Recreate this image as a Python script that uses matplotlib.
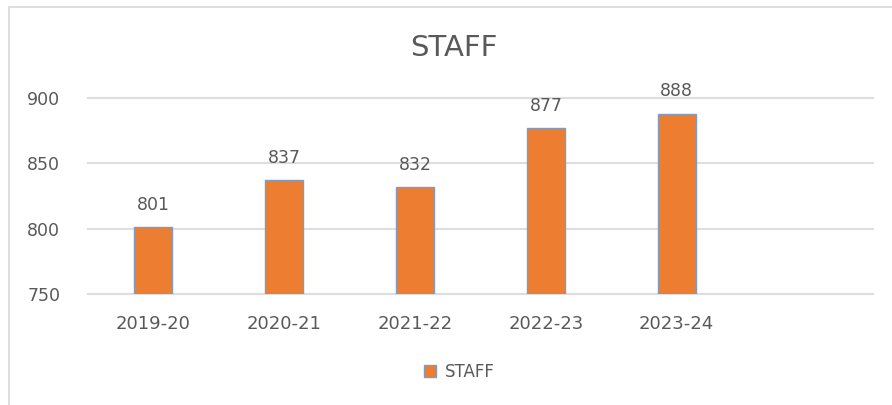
import numpy as np
import matplotlib
matplotlib.use("Agg")
import matplotlib.pyplot as plt
from matplotlib.patches import Rectangle

# staff headcount per academic year
years = ["2019-20", "2020-21", "2021-22", "2022-23", "2023-24"]
staff = [801, 837, 832, 877, 888]
y_ticks = [750, 800, 850, 900]

text_color = "#595959"
grid_color = "#dedede"
bar_color = "#ED7D31"

plt.rcParams["font.family"] = ["DejaVu Sans"]

fig = plt.figure(figsize=(8.92, 4.05), dpi=100)
fig.patch.set_facecolor("white")

# light chart-area border (left and top edges are in view)
fig.add_artist(Rectangle((9 / 892, -0.1), 1.2, 1 - 7 / 405 + 0.1,
                         transform=fig.transFigure, fill=False,
                         edgecolor="#d9d9d9", linewidth=1.2))

ax = fig.add_axes([88 / 892, 1 - 294 / 405, (873 - 88) / 892, (294 - 98) / 405])

x = np.arange(len(years))
bars = ax.bar(x, staff, width=0.29, color=bar_color, edgecolor="#7F9CC0",
              linewidth=1, zorder=3, label="STAFF")

for xi, v in zip(x, staff):
    ax.annotate(str(v), (xi, v), xytext=(0, 16), textcoords="offset points",
                ha="center", va="center", fontsize=12.5, color=text_color)

# one spare category slot on the right
ax.set_xlim(-0.5, 5.5)
ax.set_ylim(750, 900)
ax.set_xticks(x)
ax.set_xticklabels(years)
ax.set_yticks(y_ticks)

ax.yaxis.grid(True, color=grid_color, linewidth=1.5, zorder=0)
for gl in ax.get_ygridlines():
    gl.set_clip_on(False)
ax.set_axisbelow(True)
for s in ax.spines.values():
    s.set_visible(False)

ax.tick_params(axis="x", length=0, pad=15, labelsize=13, labelcolor=text_color)
ax.tick_params(axis="y", length=0, pad=20, labelsize=12.5, labelcolor=text_color)

fig.text(454 / 892, 1 - 48 / 405, "STAFF", ha="center", va="center",
         fontsize=21, color=text_color)

leg = fig.legend(handles=[bars], labels=["STAFF"], loc="center",
                 bbox_to_anchor=(459 / 892, 1 - 372 / 405), frameon=False,
                 fontsize=12, handlelength=0.75, handleheight=0.75,
                 handletextpad=0.5)
for t in leg.get_texts():
    t.set_color(text_color)

fig.savefig("out.png", dpi=100, facecolor="white")
